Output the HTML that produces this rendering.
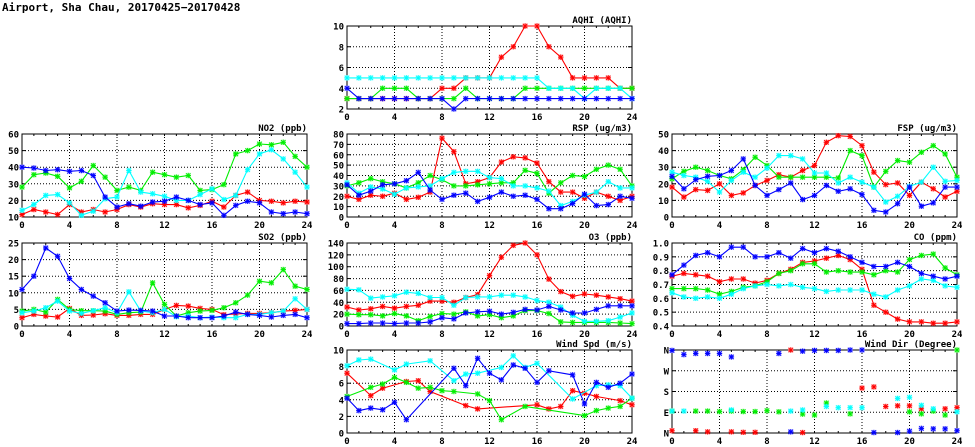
<!DOCTYPE html>
<html><head><meta charset="utf-8">
<style>
body{margin:0;background:#fff;width:975px;height:447px;overflow:hidden}
svg{display:block}
text{font-family:"DejaVu Sans Mono","Liberation Mono",monospace;font-weight:bold;fill:#000}
</style></head>
<body>
<svg id="chart" width="975" height="447" viewBox="0 0 975 447" xmlns="http://www.w3.org/2000/svg">
<text x="2" y="11" font-size="11" font-weight="normal">Airport, Sha Chau, 20170425−20170428</text>
</svg>
<script>
const hours = [0,1,2,3,4,5,6,7,8,9,10,11,12,13,14,15,16,17,18,19,20,21,22,23,24];
const xTicks = [0,4,8,12,16,20,24];
const seriesColors = ['#ff0000','#00ee00','#00ffff','#0000ff'];

const aqhiRed   = [3,3,3,3,3,3,3,3,4,4,5,5,5,7,8,10,10,8,7,5,5,5,5,4,4];
const aqhiGreen = [3,3,3,4,4,4,3,3,3,3,4,3,3,3,3,4,4,4,4,4,4,4,4,4,4];
const aqhiCyan  = [5,5,5,5,5,5,5,5,5,5,5,5,5,5,5,5,5,4,4,4,3,4,4,4,3];
const aqhiBlue  = [4,3,3,3,3,3,3,3,3,2,3,3,3,3,3,3,3,3,3,3,3,3,3,3,3];

const no2Red   = [11.5,14.5,13,11.5,17.5,13,14.5,13,14.5,17.5,16,18,17.5,17.5,15.5,17,19.5,16,23,25,20,19.5,18.5,19.5,19];
const no2Green = [28,35.5,36.5,34.5,27.5,31.5,41,34,26,28,26,37,35.5,34,35,26,26.5,29.5,48,50,54,53.5,55,46.5,40];
const no2Cyan  = [14,17.5,23,23.5,18.5,11,13.5,21,22,38,25,24,22.5,20,20,23.5,27,20.5,23,38.5,48,50.5,45,37,28];
const no2Blue  = [40,39.5,38,38.5,37.5,38,35,22,16,18,16.5,19,19.5,22,20,17.5,18.5,11,17,19.5,18.5,13,12,13,12];

const so2Red   = [2.5,3.5,3,2.7,5.3,3.2,3.3,3.7,3.2,3.2,3.5,3.5,5,6.2,6,5.3,5,3.4,3.6,3.8,3.8,4,4.5,4.7,5];
const so2Green = [4.5,5,4.2,8,5,4.6,4.6,4.5,3.5,4,4.2,13,6.5,3,4,4.5,4.7,5.5,7,9.3,13.5,13,17,12,11];
const so2Cyan  = [4,4.5,5.5,7.5,4.5,3.8,4.6,5.5,4,10.3,4.5,4,5,2.8,3,2.5,2.7,2.5,2.5,3.5,3.5,4,4.5,8.2,5];
const so2Blue  = [11,15,23.5,21,14.3,11,9,7,4.5,4.8,4.7,4.5,3,3,2.5,2.5,2.5,3,4.2,3.5,3.2,2.7,3.2,3.5,2.5];

const rspRed   = [20,17,21,20,23,17,19,24,76,63,32,34,38,53,58,57,52,34,24,24,18,24,20,16,20];
const rspGreen = [30,33,37,34,32,28,33,40,36,30,30,31,32,33,33,45,42,23,33,40,39,46,50,46,30];
const rspCyan  = [33,23,29,27,22,28,29,30,37,43,44,44,38,37,30,30,28,25,11,15,21,24,34,28,28];
const rspBlue  = [31,21,25,31,32,35,43,26,17,21,23,15,19,24,20,21,17,8,8,13,22,11,12,20,18];

const fspRed   = [18,12,16.5,16,20,13,14.5,19,22,25.5,24,28,31,45,49,48.5,43,27,19.5,20.5,13,21,17,12,15.5];
const fspGreen = [23,27.5,30,28,25,23,28.5,36,31,24,24,24,24,24,23.5,40,37,18,27.5,34,33,39,43,38,24];
const fspCyan  = [27,25,24,21.5,15,22,27,24,29.5,37,37,35,26.5,26.5,20.5,24,21,18,9,12.5,18.5,21,30,21.5,22];
const fspBlue  = [24.5,17,22.5,24.5,25,28,35,19,13,16.5,20.5,10.5,13,19,15.5,17,13.5,4,3,8,18,6.5,8.5,18,18];

const o3Red   = [32,27,29,33,30,33,35,42,42,40,48,53,85,116,136,140,120,79,58,50,54,52,49,46,42];
const o3Green = [20,19,19,17,21,17,9,16,21,20,24,17,19,14,17,26,26,21,7,6,6,6,6,5,4];
const o3Cyan  = [62,61,47,49,51,57,55,48,48,35,48,49,49,52,52,49,43,40,32,18,8,8,9,15,22];
const o3Blue  = [4,4,5,5,4,5,5,7,14,12,22,24,25,20,23,28,27,33,27,22,22,28,34,34,34];

const coRed   = [.76,.78,.77,.76,.72,.74,.74,.71,.73,.78,.81,.86,.87,.89,.91,.88,.81,.55,.50,.45,.43,.43,.42,.42,.43];
const coGreen = [.67,.67,.67,.66,.63,.65,.68,.69,.72,.78,.80,.85,.85,.79,.80,.79,.79,.77,.80,.79,.88,.91,.92,.82,.77];
const coCyan  = [.64,.61,.60,.61,.60,.63,.67,.69,.70,.69,.70,.68,.67,.65,.66,.66,.66,.63,.61,.66,.69,.74,.73,.69,.68];
const coBlue  = [.77,.84,.91,.93,.90,.97,.97,.90,.90,.93,.89,.96,.93,.96,.94,.90,.86,.83,.83,.86,.83,.78,.76,.74,.76];

const wsRed   = [7.2,null,4.5,5.4,null,6.2,6.3,5,null,null,3.3,2.9,null,null,null,null,3.4,2.9,3.2,5.1,4.8,4.4,null,3.9,3.4];
const wsGreen = [4.4,null,5.5,5.9,6.7,6.1,5.4,5.5,5.1,5,null,4.7,3.9,1.6,null,3.2,null,null,null,null,2.1,2.7,3.0,3.2,4.2];
const wsCyan  = [8.1,8.8,8.9,null,7.6,8.3,null,8.7,null,6.3,7.1,7.2,null,7.9,9.3,7.9,8.4,null,null,4.1,null,5.7,5.8,5.7,4.2];
const wsBlue  = [4.2,2.7,3.0,2.8,3.7,1.6,null,null,null,7.8,5.7,9.0,7.2,6.4,8.2,7.8,6.1,7.5,null,7.0,3.5,6.1,5.5,6.0,7.1];

const wdRed   = [10,null,10,5,null,5,3,3,null,null,360,2,null,null,null,null,195,200,115,118,118,105,null,105,110];
const wdGreen = [95,null,95,95,93,95,93,93,97,92,null,82,78,130,null,83,null,null,null,null,92,83,95,78,360];
const wdCyan  = [95,95,null,null,null,100,null,null,null,null,95,100,null,115,110,110,110,null,null,150,155,120,105,null,92];
const wdBlue  = [358,340,345,345,345,330,null,null,null,345,5,355,358,358,358,360,360,2,null,2,8,20,18,18,10];

const panels = [
 {name:'aqhi',title:'AQHI (AQHI)',col:1,row:0,ymin:2,ymax:10,ticks:[2,4,6,8,10],labels:['2','4','6','8','10'],data:[aqhiRed,aqhiGreen,aqhiCyan,aqhiBlue],lines:true},
 {name:'no2',title:'NO2 (ppb)',col:0,row:1,ymin:10,ymax:60,ticks:[10,20,30,40,50,60],labels:['10','20','30','40','50','60'],data:[no2Red,no2Green,no2Cyan,no2Blue],lines:true},
 {name:'rsp',title:'RSP (ug/m3)',col:1,row:1,ymin:0,ymax:80,ticks:[0,10,20,30,40,50,60,70,80],labels:['0','10','20','30','40','50','60','70','80'],data:[rspRed,rspGreen,rspCyan,rspBlue],lines:true},
 {name:'fsp',title:'FSP (ug/m3)',col:2,row:1,ymin:0,ymax:50,ticks:[0,10,20,30,40,50],labels:['0','10','20','30','40','50'],data:[fspRed,fspGreen,fspCyan,fspBlue],lines:true},
 {name:'so2',title:'SO2 (ppb)',col:0,row:2,ymin:0,ymax:25,ticks:[0,5,10,15,20,25],labels:['0','5','10','15','20','25'],data:[so2Red,so2Green,so2Cyan,so2Blue],lines:true},
 {name:'o3',title:'O3 (ppb)',col:1,row:2,ymin:0,ymax:140,ticks:[0,20,40,60,80,100,120,140],labels:['0','20','40','60','80','100','120','140'],data:[o3Red,o3Green,o3Cyan,o3Blue],lines:true},
 {name:'co',title:'CO (ppm)',col:2,row:2,ymin:0.4,ymax:1.0,ticks:[0.4,0.5,0.6,0.7,0.8,0.9,1.0],labels:['0.4','0.5','0.6','0.7','0.8','0.9','1.0'],data:[coRed,coGreen,coCyan,coBlue],lines:true},
 {name:'wind-speed',title:'Wind Spd (m/s)',col:1,row:3,ymin:0,ymax:10,ticks:[0,2,4,6,8,10],labels:['0','2','4','6','8','10'],data:[wsRed,wsGreen,wsCyan,wsBlue],lines:true},
 {name:'wind-dir',title:'Wind Dir (Degree)',col:2,row:3,ymin:0,ymax:360,ticks:[0,90,180,270,360],labels:['N','E','S','W','N'],data:[wdRed,wdGreen,wdCyan,wdBlue],lines:false}
];
const colX=[22,347,672], rowY=[26,134,243,350], PW=285, PH=83;
const NS='http://www.w3.org/2000/svg';
const svg=document.getElementById('chart');
function mk(tag,attrs,parent){const e=document.createElementNS(NS,tag);for(const k in attrs)e.setAttribute(k,attrs[k]);(parent||svg).appendChild(e);return e;}
const seriesNames=['red','green','cyan','blue'];

panels.forEach(p=>{
  const x0=colX[p.col], y0=rowY[p.row];
  const g=mk('g',{});
  
  
  const xs=h=>x0+h/24*PW;
  const ys=v=>y0+PH-(v-p.ymin)/(p.ymax-p.ymin)*PH;
  p.ticks.forEach((t,ti)=>{
    const y=ys(t);
    if(t>p.ymin&&t<p.ymax){const l=mk('line',{x1:x0,x2:x0+PW,y1:y,y2:y,stroke:'#000','stroke-width':1,'stroke-dasharray':'1,2'},g);
      
      }
    const tl=mk('text',{x:x0-3,y:y+3.5,'font-size':9,'text-anchor':'end'},g);
    tl.textContent=p.labels[ti];
    
    
    mk('line',{x1:x0,x2:x0+4,y1:y,y2:y,stroke:'#000'},g);
    mk('line',{x1:x0+PW-4,x2:x0+PW,y1:y,y2:y,stroke:'#000'},g);
  });
  xTicks.forEach(h=>{
    const x=xs(h);
    if(h>0&&h<24){const l=mk('line',{x1:x,x2:x,y1:y0,y2:y0+PH,stroke:'#000','stroke-dasharray':'1,2'},g);
      
      }
    const tl=mk('text',{x:x,y:y0+PH+11,'font-size':9,'text-anchor':'middle'},g);
    tl.textContent=String(h);
    
    
  });
  hours.forEach(h=>{const x=xs(h);mk('line',{x1:x,x2:x,y1:y0+PH,y2:y0+PH-2,stroke:'#000'},g);mk('line',{x1:x,x2:x,y1:y0,y2:y0+2,stroke:'#000'},g);});
  const box=mk('rect',{x:x0,y:y0,width:PW,height:PH,fill:'none',stroke:'#000','stroke-width':1},g);
  
  
  const tt=mk('text',{x:x0+PW,y:y0-3,'font-size':9,'text-anchor':'end'},g);
  tt.textContent=p.title;
  
  
  p.data.forEach((arr,si)=>{
    const c=seriesColors[si];
    const pts=[];
    arr.forEach((v,i)=>{if(v!==null&&v!==undefined)pts.push([xs(hours[i]),ys(v)]);});
    if(p.lines){
      const pl=mk('polyline',{points:pts.map(q=>q[0].toFixed(1)+','+q[1].toFixed(1)).join(' '),fill:'none',stroke:c,'stroke-width':1.1},g);
      
      
    }
    pts.forEach(q=>{
      const m=mk('g',{stroke:c,'stroke-width':1},g);
      
      
      mk('rect',{x:q[0]-2.7,y:q[1]-2.7,width:5.4,height:5.4,fill:c,'fill-opacity':0.18,stroke:'none'},m);
      mk('line',{x1:q[0]-2.7,x2:q[0]+2.7,y1:q[1],y2:q[1]},m);
      mk('line',{x1:q[0],x2:q[0],y1:q[1]-2.7,y2:q[1]+2.7},m);
      mk('line',{x1:q[0]-2.2,x2:q[0]+2.2,y1:q[1]-2.2,y2:q[1]+2.2},m);
      mk('line',{x1:q[0]-2.2,x2:q[0]+2.2,y1:q[1]+2.2,y2:q[1]-2.2},m);
    });
  });
});
</script>
</body></html>
